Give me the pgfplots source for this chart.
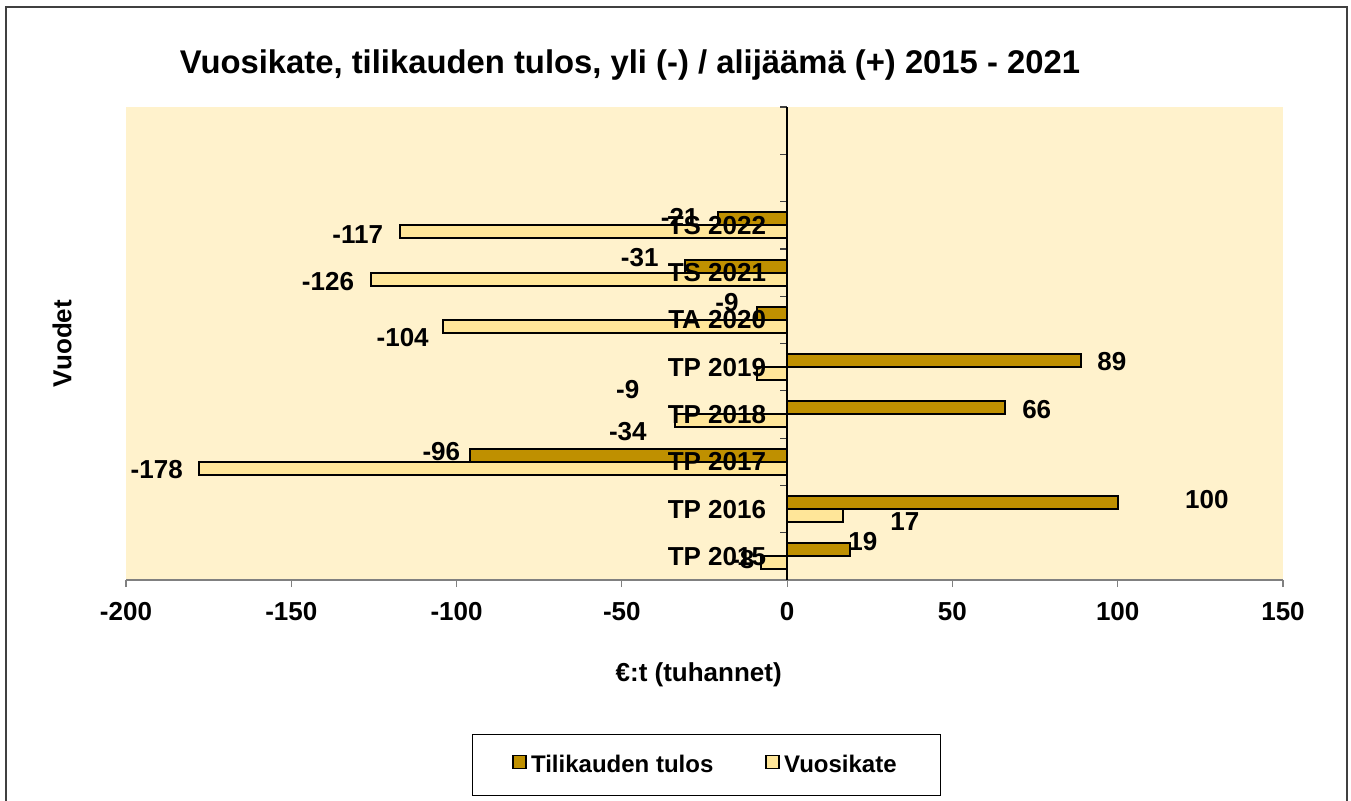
\documentclass[border=0pt]{standalone}
\usepackage{pgfplots}
\pgfplotsset{compat=1.18}
\usepackage{pgfplotstable}
\usepackage{fontspec}
\setmainfont{Liberation Sans}
\definecolor{bgcol}{RGB}{255,242,204}
\definecolor{darkbar}{RGB}{191,144,0}
\definecolor{lightbar}{RGB}{255,230,153}
\definecolor{framecol}{RGB}{64,64,64}

\pgfplotstableread{
y v
0 19
1 100
2 -96
3 66
4 89
5 -9
6 -31
7 -21
}\tulos
\pgfplotstableread{
y v
0 -8
1 17
2 -178
3 -34
4 -9
5 -104
6 -126
7 -117
}\vuosikate
\pgfplotstableread{
x y t
22.9 0.303 19
126.95 1.191 100
-104.6 2.206 -96
75.5 3.094 66
98.2 4.109 89
-18.2 5.356 -9
-44.6 6.308 -31
-32.5 7.174 -21
-13.4 -0.077 -8
35.6 0.726 17
-190.7 1.826 -178
-48.2 2.629 -34
-48.2 3.517 -9
-116.3 4.616 -104
-138.9 5.800 -126
-129.9 6.794 -117
}\labels

\begin{document}
\begin{tikzpicture}
\useasboundingbox (0,0) rectangle (675.5pt,400pt);
\clip (0,0) rectangle (675.5pt,400pt);
\begin{axis}[
  at={(63pt,110pt)}, anchor=south west,
  scale only axis, width=578.5pt, height=236.5pt,
  axis on top,
  axis background/.style={fill=bgcol},
  axis x line*=bottom, axis y line*=middle,
  x axis line style={draw=gray, line width=0.8pt},
  y axis line style={draw=black, line width=0.8pt},
  xmin=-200, xmax=150, ymin=-0.5, ymax=9.5,
  xtick={-200,-150,-100,-50,0,50,100,150},
  xticklabels={-200,-150,-100,-50,0,50,100,150},
  xticklabel style={font=\bfseries\fontsize{13}{15}\selectfont, yshift=-4pt},
  x tick style={draw=gray, line width=0.6pt},
  xtick align=outside, major tick length=3.5pt,
  ytick={-0.5,0.5,...,9.5}, yticklabels={},
  ytick align=outside,
  y tick style={draw=darkgray, line width=0.6pt},
  extra y ticks={0,1,2,3,4,5,6,7},
  extra y tick labels={TP 2015,TP 2016,TP 2017,TP 2018,TP 2019,TA 2020,TS 2021,TS 2022},
  extra y tick style={major tick length=0pt,
     yticklabel style={font=\bfseries\fontsize{13}{15}\selectfont, anchor=east, xshift=-7pt}},
  title={Vuosikate, tilikauden tulos, yli (-) / alijäämä (+) 2015 - 2021},
  title style={at={(axis description cs:0.4356,1.063)}, anchor=center, font=\bfseries\fontsize{16.4}{19}\selectfont},
  xlabel={€:t (tuhannet)},
  every axis x label/.style={at={(axis description cs:0.495,-0.2008)}, anchor=center, font=\bfseries\fontsize{13}{15}\selectfont},
  ylabel={Vuodet},
  every axis y label/.style={at={(axis description cs:-0.0553,0.5)}, anchor=center, rotate=90, font=\bfseries\fontsize{13}{15}\selectfont},
  legend style={at={(axis description cs:0.5017,-0.391)}, anchor=center, draw=black, line width=0.5pt,
     legend columns=2, font=\bfseries\fontsize{12}{14}\selectfont,
     inner xsep=20pt, inner ysep=8pt,
     /tikz/every even column/.append style={column sep=24pt}},
  legend cell align=left,
  legend image code/.code={\draw[#1, line width=0.9pt] (0pt,-1.8pt) rectangle (6.5pt,4.7pt);},
]
\addplot[xbar, bar width=6.5pt, bar shift=3.25pt, fill=darkbar, draw=black, line width=1pt] table[x=v, y=y] {\tulos};
\addlegendentry{Tilikauden tulos}
\addplot[xbar, bar width=6.5pt, bar shift=-3.25pt, fill=lightbar, draw=black, line width=1pt] table[x=v, y=y] {\vuosikate};
\addlegendentry{Vuosikate}
\addplot[draw=none, mark=none, forget plot, point meta=explicit symbolic, nodes near coords,
  every node near coord/.append style={anchor=center, inner sep=0pt, font=\bfseries\fontsize{13}{15}\selectfont}]
  table[x=x, y=y, meta=t] {\labels};
\end{axis}
\draw[framecol, line width=1pt] (3pt,-10pt) rectangle (673.5pt,396.7pt);
\end{tikzpicture}
\end{document}
